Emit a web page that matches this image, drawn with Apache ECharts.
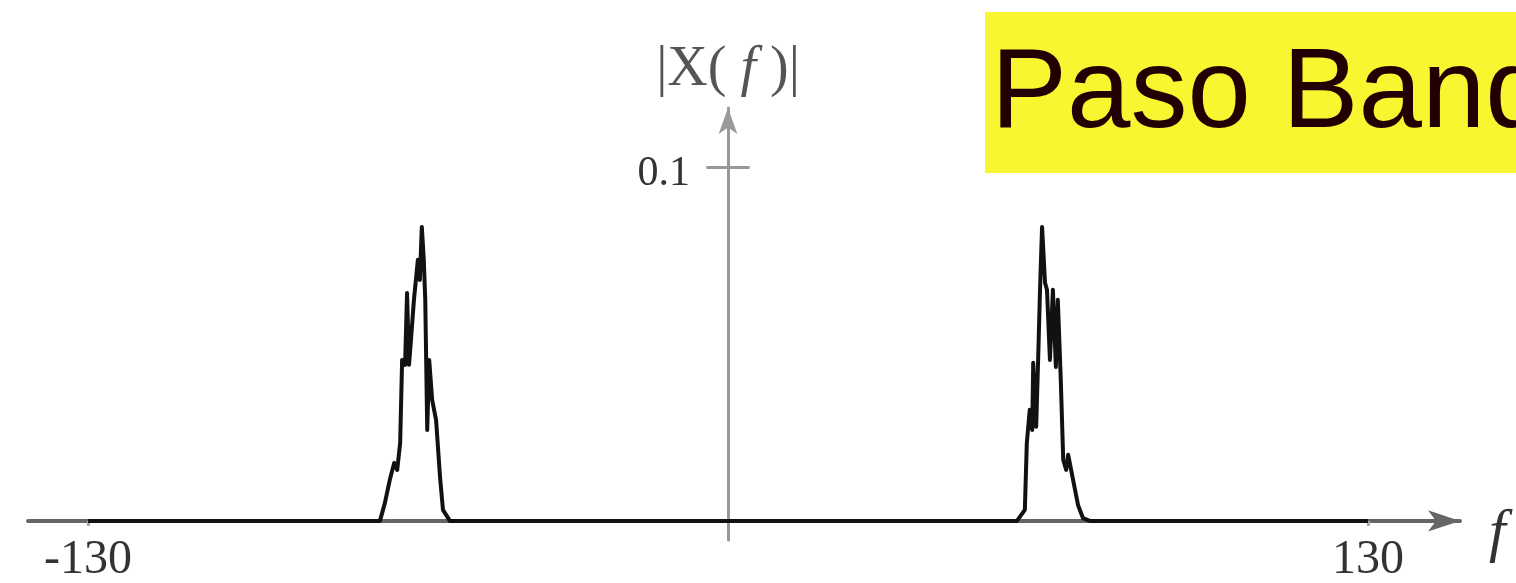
<!DOCTYPE html>
<html>
<head>
<meta charset="utf-8">
<script src="https://cdn.jsdelivr.net/npm/echarts@6/dist/echarts.min.js"></script>
<style>
html,body{margin:0;padding:0;background:#fff;}
#chart{width:1516px;height:583px;}
</style>
</head>
<body>
<div id="chart"></div>
<script>
// Frequency (x) and magnitude |X(f)| (y)
const freq = [-130, -70.7, -69.7, -68.7, -67.8, -67.2, -66.6, -66.2, -65.6, -65.2, -64.8, -64.4, -63.8, -63.0, -62.6, -62.2, -61.8, -61.5, -61.1, -60.7, -60.1, -59.3, -58.5, -57.9, -56.5,
              58.7, 60.3, 60.7, 61.3, 61.8, 62.0, 62.6, 63.0, 63.4, 63.8, 64.4, 64.8, 65.4, 66.0, 66.6, 67.0, 67.6, 68.1, 68.7, 69.1, 70.1, 71.1, 72.1, 73.5, 130];
const magnitude = [0, 0, 0.0051, 0.0116, 0.0164, 0.0144, 0.0220, 0.0455, 0.0441, 0.0644, 0.0441, 0.0512, 0.0625, 0.0738, 0.0681, 0.0831, 0.0738, 0.0625, 0.0257, 0.0455, 0.0342, 0.0285, 0.0124, 0.0031, 0,
                   0, 0.0031, 0.0220, 0.0314, 0.0257, 0.0447, 0.0266, 0.0455, 0.0661, 0.0831, 0.0673, 0.0653, 0.0455, 0.0653, 0.0435, 0.0625, 0.0399, 0.0172, 0.0144, 0.0187, 0.0116, 0.0045, 0.0008, 0, 0];
const xTicks = [-130, 130];
const yTicks = [0.1];
const titleText = 'Paso Banda';

const chart = echarts.init(document.getElementById('chart'));
const seriesData = freq.map((f, i) => [f, magnitude[i]]);

const X_MIN = -142.2, X_MAX = 148.7, Y_MIN = -0.0054, Y_MAX = 0.1167;
const GRID = { left: 28, right: 56, top: 108, bottom: 43 };
const gridW = 1516 - GRID.left - GRID.right;
const gridH = 583 - GRID.top - GRID.bottom;
// offsets that place each axis at the other axis' zero
const yAxisOffset = -((0 - X_MIN) / (X_MAX - X_MIN) * gridW);
const xAxisOffset = -((0 - Y_MIN) / (Y_MAX - Y_MIN) * gridH);

chart.setOption({
  animation: false,
  backgroundColor: '#ffffff',
  title: {
    text: titleText,
    left: 985,
    top: 12,
    backgroundColor: '#f9f531',
    padding: [19, 60, 12, 6],
    textStyle: {
      fontFamily: 'Liberation Sans',
      fontSize: 114,
      lineHeight: 130,
      fontWeight: 'normal',
      color: '#200000'
    }
  },
  grid: Object.assign({ containLabel: false, outerBoundsMode: 'none' }, GRID),
  xAxis: {
    type: 'value',
    min: X_MIN,
    max: X_MAX,
    position: 'bottom',
    offset: xAxisOffset,
    name: '{f|f}',
    nameLocation: 'end',
    nameGap: 29,
    nameTextStyle: {
      rich: {
        f: {
          fontFamily: 'Liberation Serif',
          fontStyle: 'italic',
          fontSize: 60,
          color: '#333',
          padding: [26, 0, 0, 0]
        }
      }
    },
    axisLine: {
      onZero: false,
      symbol: ['none', 'arrow'],
      symbolSize: [16, 32],
      lineStyle: { color: '#666', width: 4 }
    },
    axisTick: { customValues: xTicks, length: 5, lineStyle: { color: '#aaa', width: 3 } },
    axisLabel: {
      customValues: xTicks,
      margin: 15,
      fontFamily: 'Liberation Serif',
      fontSize: 48,
      color: '#333',
      formatter: v => String(v)
    },
    splitLine: { show: false }
  },
  yAxis: {
    type: 'value',
    min: Y_MIN,
    max: Y_MAX,
    position: 'left',
    offset: yAxisOffset,
    name: '{a||X( }{b|f}{a| )|}',
    nameLocation: 'end',
    nameGap: 10,
    nameTextStyle: {
      rich: {
        a: { fontFamily: 'Liberation Serif', fontSize: 56, color: '#555' },
        b: { fontFamily: 'Liberation Serif', fontStyle: 'italic', fontSize: 56, color: '#555' }
      }
    },
    axisLine: {
      onZero: false,
      symbol: ['none', 'arrow'],
      symbolSize: [14, 26],
      lineStyle: { color: '#999', width: 3 }
    },
    axisTick: { show: false },
    axisLabel: {
      customValues: yTicks,
      margin: 38,
      formatter: v => '{v|' + v + '}',
      rich: {
        v: {
          fontFamily: 'Liberation Serif',
          fontSize: 42,
          color: '#333',
          padding: [14, 0, 0, 0]
        }
      }
    },
    splitLine: { show: false }
  },
  series: [{
    type: 'line',
    data: seriesData,
    showSymbol: false,
    lineStyle: { color: '#111', width: 4, join: 'round' },
    z: 5,
    markLine: {
      silent: true,
      symbol: ['none', 'none'],
      label: { show: false },
      lineStyle: { color: '#999', width: 3, type: 'solid' },
      data: [[{ coord: [-4.4, yTicks[0]] }, { coord: [4.4, yTicks[0]] }]]
    }
  }]
});
</script>
</body>
</html>
